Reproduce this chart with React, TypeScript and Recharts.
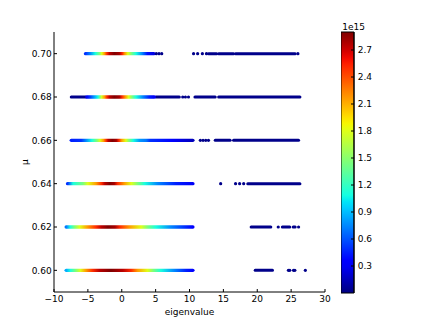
import React from 'react';
import { ComposedChart, Line, Scatter, XAxis, YAxis, BarChart, Bar } from 'recharts';

// ---------- axes ----------
const xTicks = [-10, -5, 0, 5, 10, 15, 20, 25, 30];
const yTicks = [0.6, 0.62, 0.64, 0.66, 0.68, 0.7];
const cbTicks = [0.3, 0.6, 0.9, 1.2, 1.5, 1.8, 2.1, 2.4, 2.7];
const cbMax = 2.9; // colour scale max (x 1e15)

// ---------- rows: [eigenvalue, density (1e15)] ----------
const band060 = [[-8.2, 0.85], [-7.6, 1.1], [-6.7, 1.5], [-6.1, 1.8], [-5.3, 2.15], [-4.3, 2.5], [-3.3, 2.75], [-1.6, 2.9], [0.15, 2.75], [1.4, 2.5], [2.35, 2.15], [3.8, 1.8], [4.65, 1.45], [5.8, 1.1], [7.75, 0.75], [9.5, 0.45], [10.5, 0.35]];
const runs060 = [[19.7, 22.25]];
const dots060 = [24.6, 24.8, 25.35, 25.55, 27.1];

const band062 = [[-8.2, 0.7], [-7.6, 1.1], [-7.0, 1.45], [-6.2, 1.8], [-5.1, 2.15], [-3.8, 2.5], [-3.0, 2.75], [-2.05, 2.9], [-1.0, 2.8], [-0.25, 2.5], [1.2, 2.15], [2.85, 1.8], [3.8, 1.45], [5.05, 1.1], [7.25, 0.75], [9.7, 0.45], [10.5, 0.35]];
const runs062 = [[19.1, 22.0], [23.7, 24.8], [25.3, 25.6]];
const dots062 = [23.1, 26.1];

const band064 = [[-8.0, 0.5], [-7.2, 1.1], [-5.7, 1.45], [-5.0, 1.8], [-3.8, 2.15], [-3.0, 2.5], [-2.5, 2.75], [-1.8, 2.9], [-1.1, 2.8], [-0.6, 2.5], [0.4, 2.15], [1.4, 1.8], [2.35, 1.45], [3.4, 1.1], [5.3, 0.75], [8.0, 0.45], [10.5, 0.3]];
const runs064 = [[18.6, 26.3]];
const dots064 = [14.6, 16.8, 17.4, 18.0];

const band066 = [[-7.45, 0.45], [-6.0, 0.5], [-5.3, 0.75], [-4.4, 1.1], [-3.7, 1.45], [-3.2, 1.8], [-2.7, 2.15], [-2.3, 2.5], [-2.0, 2.75], [-1.4, 2.9], [-0.8, 2.8], [-0.4, 2.5], [0.0, 2.15], [0.6, 1.8], [1.1, 1.45], [1.7, 1.1], [2.6, 0.8], [3.6, 0.7], [4.2, 0.5], [7.5, 0.35], [10.5, 0.15]];
const runs066 = [[13.8, 16.0], [16.5, 26.1]];
const dots066 = [11.6, 12.0, 12.4, 12.8];

const band068 = [[-5.15, 0.3], [-4.75, 0.5], [-4.0, 0.85], [-3.5, 1.1], [-3.0, 1.75], [-2.55, 2.15], [-2.2, 2.5], [-1.8, 2.75], [-1.1, 2.9], [-0.35, 2.8], [0.05, 2.5], [0.55, 2.15], [1.0, 1.8], [1.6, 1.4], [2.1, 1.1], [3.1, 0.75], [4.05, 0.45], [4.8, 0.3]];
const runs068 = [[-7.45, -5.3], [5.05, 8.5], [10.8, 13.8], [14.3, 26.3]];
const dots068 = [9.0, 9.4, 9.85];

const band070 = [[-5.35, 0.5], [-4.65, 0.75], [-3.9, 1.1], [-3.3, 1.45], [-2.95, 1.8], [-2.55, 2.15], [-2.2, 2.5], [-1.8, 2.75], [-1.1, 2.9], [-0.35, 2.8], [0.05, 2.55], [0.4, 2.2], [0.9, 1.8], [1.5, 1.4], [2.1, 1.1], [3.0, 0.75], [3.8, 0.4], [4.75, 0.25]];
const runs070 = [[12.8, 14.0], [14.3, 16.5], [16.8, 25.6]];
const dots070 = [5.1, 5.5, 5.9, 10.6, 11.2, 11.9, 12.5, 26.0];

const rows = [
  { mu: 0.6, band: band060, runs: runs060, dots: dots060 },
  { mu: 0.62, band: band062, runs: runs062, dots: dots062 },
  { mu: 0.64, band: band064, runs: runs064, dots: dots064 },
  { mu: 0.66, band: band066, runs: runs066, dots: dots066 },
  { mu: 0.68, band: band068, runs: runs068, dots: dots068 },
  { mu: 0.7, band: band070, runs: runs070, dots: dots070 },
];

// ---------- jet colormap ----------
const JR = [[0, 0], [0.35, 0], [0.66, 1], [0.89, 1], [1, 0.5]];
const JG = [[0, 0], [0.125, 0], [0.375, 1], [0.64, 1], [0.91, 0], [1, 0]];
const JB = [[0, 0.5], [0.11, 1], [0.34, 1], [0.65, 0], [1, 0]];
function interp(pts: number[][], t: number) {
  if (t <= pts[0][0]) return pts[0][1];
  for (let i = 1; i < pts.length; i++) {
    if (t <= pts[i][0]) {
      const [x0, y0] = pts[i - 1];
      const [x1, y1] = pts[i];
      return y0 + ((y1 - y0) * (t - x0)) / (x1 - x0);
    }
  }
  return pts[pts.length - 1][1];
}
function jet(t: number) {
  const c = Math.max(0, Math.min(1, t));
  const r = Math.round(interp(JR, c) * 255);
  const g = Math.round(interp(JG, c) * 255);
  const b = Math.round(interp(JB, c) * 255);
  return `rgb(${r},${g},${b})`;
}
const navy = jet(0.03 / cbMax);
const cbStops = Array.from({ length: 41 }, (_, i) => i / 40);

const FONT = 'DejaVu Sans';
const tickStyle = { fontSize: 9, fill: '#000', fontFamily: FONT };

const makeBandDot = (id: string) => (props: any) => {
  const { index, points, cy } = props;
  if (index !== 0 || !points || points.length < 2) return <g key={`e${index}`} />;
  const x0 = points[0].x;
  const xN = points[points.length - 1].x;
  return (
    <g key={`band-${id}`}>
      <defs>
        <linearGradient id={id} gradientUnits="userSpaceOnUse" x1={x0} y1={cy} x2={xN} y2={cy}>
          {points.map((p: any, i: number) => (
            <stop key={i} offset={(p.x - x0) / (xN - x0)} stopColor={jet(p.payload.v / cbMax)} />
          ))}
        </linearGradient>
      </defs>
      <path d={`M${x0},${cy}L${xN},${cy}`} stroke={`url(#${id})`} strokeWidth={3.4} strokeLinecap="round" fill="none" />
    </g>
  );
};

const fmtX = (v: number) => (v < 0 ? `\u2212${-v}` : `${v}`);

export default function App() {
  return (
    <div style={{ position: 'absolute', left: 0, top: 0, width: 436, height: 326, background: '#fff' }}>
      <div style={{ position: 'absolute', left: 0, top: 0 }}>
        <ComposedChart width={436} height={326} margin={{ top: 32, right: 111, bottom: 0, left: 0 }}>
          <XAxis
            dataKey="x"
            type="number"
            domain={[-10, 30]}
            ticks={xTicks}
            interval={0}
            height={34}
            tickSize={-3}
            tickMargin={7}
            tickFormatter={fmtX}
            tick={tickStyle}
            stroke="#000"
            axisLine={{ stroke: '#000' }}
            tickLine={{ stroke: '#000' }}
            label={{ value: 'eigenvalue', position: 'insideBottom', offset: 11, style: { fontSize: 9, fill: '#000', fontFamily: FONT } }}
          />
          <XAxis
            xAxisId="t"
            orientation="top"
            dataKey="x"
            type="number"
            domain={[-10, 30]}
            ticks={xTicks}
            interval={0}
            height={0}
            tickSize={-3}
            tick={false}
            axisLine={{ stroke: '#000' }}
            tickLine={{ stroke: '#000' }}
          />
          <YAxis
            type="number"
            domain={[0.59, 0.71]}
            ticks={yTicks}
            interval={0}
            width={54}
            tickSize={-3}
            tickMargin={5.3}
            tickFormatter={(v: number) => v.toFixed(2)}
            tick={tickStyle}
            axisLine={{ stroke: '#000' }}
            tickLine={{ stroke: '#000' }}
            label={{
              content: (p: any) => {
                const vb = p.viewBox || { x: 0, y: 32, height: 260 };
                const cx = 27.5;
                const cy = vb.y + vb.height / 2;
                return (
                  <text x={cx} y={cy} transform={`rotate(-90 ${cx} ${cy})`} textAnchor="middle" fontSize={9} fontFamily={FONT} fill="#000">
                    μ
                  </text>
                );
              },
            }}
          />
          <YAxis
            yAxisId="r"
            orientation="right"
            type="number"
            domain={[0.59, 0.71]}
            ticks={yTicks}
            interval={0}
            width={0}
            tickSize={-3}
            tick={false}
            axisLine={{ stroke: '#000' }}
            tickLine={{ stroke: '#000' }}
          />
          {rows.map((r, ri) => (
            <Line
              key={`band${ri}`}
              data={r.band.map(([x, v]) => ({ x, y: r.mu, v }))}
              dataKey="y"
              stroke="none"
              dot={makeBandDot(`bandgrad${ri}`)}
              activeDot={false}
              isAnimationActive={false}
              legendType="none"
            />
          ))}
          {rows.flatMap((r, ri) =>
            r.runs.map(([a, b], k) => (
              <Line
                key={`run${ri}-${k}`}
                data={[{ x: a, y: r.mu }, { x: b, y: r.mu }]}
                dataKey="y"
                stroke={navy}
                strokeWidth={3}
                strokeLinecap="round"
                dot={false}
                activeDot={false}
                isAnimationActive={false}
                legendType="none"
              />
            ))
          )}
          {rows.map((r, ri) => (
            <Scatter
              key={`dots${ri}`}
              data={r.dots.map((x) => ({ x, y: r.mu }))}
              dataKey="y"
              fill={navy}
              isAnimationActive={false}
              shape={(p: any) => <circle cx={p.cx} cy={p.cy} r={1.6} fill={navy} />}
              legendType="none"
            />
          ))}
        </ComposedChart>
      </div>
      <div style={{ position: 'absolute', left: 341, top: 0 }}>
        <BarChart width={95} height={326} data={[{ k: 'cb', v: cbMax }]} margin={{ top: 32, right: 0, bottom: 33, left: 0 }} barCategoryGap={0}>
          <defs>
            <linearGradient id="jetbar" x1="0" y1="1" x2="0" y2="0">
              {cbStops.map((t, i) => (
                <stop key={i} offset={t} stopColor={jet(t)} />
              ))}
            </linearGradient>
          </defs>
          <XAxis dataKey="k" hide />
          <YAxis
            orientation="right"
            type="number"
            domain={[0, cbMax]}
            ticks={cbTicks}
            interval={0}
            width={82}
            tickSize={-3}
            tickMargin={6.7}
            tickFormatter={(v: number) => v.toFixed(1)}
            tick={tickStyle}
            axisLine={{ stroke: '#000' }}
            tickLine={{ stroke: '#000' }}
            label={{
              content: () => (
                <text x={1.3} y={30} fontSize={9} fontFamily={FONT} fill="#000">
                  1e15
                </text>
              ),
            }}
          />
          <Bar dataKey="v" fill="url(#jetbar)" stroke="#000" strokeWidth={1} isAnimationActive={false} />
        </BarChart>
      </div>
    </div>
  );
}
